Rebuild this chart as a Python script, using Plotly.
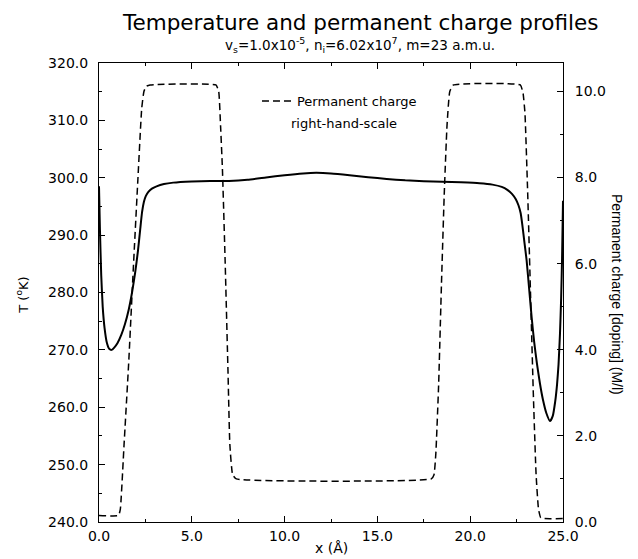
import plotly.graph_objects as go

# Temperature profile (left axis, K)
x_temp = [0.0, 0.05, 0.12, 0.2, 0.3, 0.42, 0.55, 0.68, 0.82, 1.0, 1.2, 1.4, 1.6, 1.78, 1.95,
          2.1, 2.22, 2.32, 2.42, 2.52, 2.65, 2.85, 3.1, 3.5, 4.0, 5.0, 6.0, 7.0, 8.0, 9.0, 10.0,
          11.0, 11.7, 12.5, 13.5, 14.5, 15.5, 16.5, 17.5, 18.5, 19.5, 20.5, 21.2, 21.7, 22.0,
          22.25, 22.45, 22.6, 22.72, 22.82, 22.92, 23.04, 23.18, 23.31, 23.45, 23.6, 23.76,
          23.92, 24.1, 24.3, 24.45, 24.58, 24.68, 24.76, 24.84, 24.9, 24.95, 25.0]
temp = [298.5, 291.0, 283.0, 277.5, 273.8, 271.3, 270.2, 270.0, 270.4, 271.2, 272.6, 274.5,
        277.0, 280.0, 283.5, 287.3, 291.0, 294.0, 295.8, 296.8, 297.5, 298.1, 298.5, 298.9,
        299.15, 299.35, 299.45, 299.45, 299.65, 300.05, 300.45, 300.75, 300.85, 300.75,
        300.45, 300.1, 299.8, 299.55, 299.4, 299.3, 299.2, 299.05, 298.8, 298.4, 297.9,
        297.2, 296.3, 295.2, 293.8, 291.5, 288.8, 285.6, 280.5, 275.7, 271.3, 267.5, 264.1,
        261.3, 259.0, 257.6, 258.5, 261.0, 264.0, 267.5, 273.0, 279.0, 286.0, 296.0]

# Permanent charge profile (right axis, M/l)
x_charge = [0.0, 1.05, 1.15, 1.35, 1.6, 1.85, 2.1, 2.3, 2.42, 2.55, 2.75, 6.3, 6.45, 6.55,
            6.65, 6.8, 6.95, 7.05, 7.2, 7.4, 17.9, 18.05, 18.15, 18.3, 18.45, 18.6, 18.75,
            18.9, 19.1, 22.7, 22.85, 22.95, 23.1, 23.25, 23.4, 23.55, 23.68, 23.8, 24.0, 25.0]
charge = [0.15, 0.15, 0.3, 1.8, 3.7, 5.9, 8.0, 9.6, 10.0, 10.12, 10.15, 10.15, 10.0, 9.2,
          8.2, 6.0, 3.5, 1.8, 1.1, 1.0, 1.0, 1.1, 1.6, 3.2, 5.5, 7.6, 9.2, 10.0, 10.15, 10.15,
          9.95, 9.5, 7.6, 5.3, 3.0, 1.1, 0.3, 0.1, 0.08, 0.08]

x_ticks = [0, 5, 10, 15, 20, 25]
t_ticks = [240, 250, 260, 270, 280, 290, 300, 310, 320]
q_ticks = [0, 2, 4, 6, 8, 10]

FONT = "DejaVu Sans, Liberation Sans, Arial, sans-serif"

fig = go.Figure()
fig.add_trace(go.Scatter(x=x_temp, y=temp, mode="lines", name="Temperature",
                         line=dict(color="black", width=2, shape="spline", smoothing=0.5),
                         showlegend=False))
fig.add_trace(go.Scatter(x=x_charge, y=charge, mode="lines", name="Permanent charge",
                         yaxis="y2",
                         line=dict(color="black", width=1.5, dash="7px,4px",
                                   shape="spline", smoothing=0.4),
                         showlegend=True))

axis_common = dict(showline=True, linecolor="black", linewidth=1, ticks="inside",
                   tickcolor="black", showgrid=False, zeroline=False,
                   tickfont=dict(family=FONT, size=14, color="black"))

fig.update_layout(
    width=638, height=559,
    margin=dict(l=99, r=75, t=63, b=37),
    paper_bgcolor="white", plot_bgcolor="white",
    font=dict(family=FONT, color="black"),
    xaxis=dict(range=[0, 25], tickvals=x_ticks, tickformat=".1f", ticklen=6,
               mirror="ticks", ticklabelstandoff=1,
               minor=dict(dtick=2.5, ticklen=3, ticks="inside", tickcolor="black"),
               **axis_common),
    yaxis=dict(range=[240, 320], tickvals=t_ticks, tickformat=".1f", ticklen=6,
               ticklabelstandoff=7,
               minor=dict(dtick=5, ticklen=3, ticks="inside", tickcolor="black"),
               **axis_common),
    yaxis2=dict(range=[0, 10.66], tickvals=q_ticks, tickformat=".1f", ticklen=6,
                overlaying="y", side="right", ticklabelstandoff=8,
                minor=dict(dtick=1, ticklen=3, ticks="inside", tickcolor="black"),
                **axis_common),
    legend=dict(x=0.3405, y=0.95, xanchor="left", yanchor="top",
                bgcolor="rgba(0,0,0,0)", borderwidth=0,
                font=dict(family=FONT, size=13, color="black")),
    annotations=[
        dict(text="Temperature and permanent charge profiles", xref="paper", yref="paper",
             x=0.5625, y=1.089, showarrow=False, xanchor="center", yanchor="middle",
             font=dict(family=FONT, size=21.5)),
        dict(text="v<sub>s</sub>=1.0x10<sup>-5</sup>, n<sub>i</sub>=6.02x10<sup>7</sup>, m=23 a.m.u.",
             xref="paper", yref="paper", x=0.5625, y=1.039, showarrow=False,
             xanchor="center", yanchor="middle", font=dict(family=FONT, size=13.5)),
        dict(text="right-hand-scale", xref="paper", yref="paper", x=0.4095, y=0.868,
             showarrow=False, xanchor="left", yanchor="middle",
             font=dict(family=FONT, size=13)),
        dict(text="x (Å)", xref="paper", yref="paper", x=0.5, y=-0.0566,
             showarrow=False, xanchor="center", yanchor="middle",
             font=dict(family=FONT, size=14)),
        dict(text="T (<sup>o</sup>K)", xref="paper", yref="paper", x=-0.166, y=0.495,
             showarrow=False, textangle=-90, xanchor="center", yanchor="middle",
             font=dict(family=FONT, size=13)),
        dict(text="Permanent charge [doping] (M/l)", xref="paper", yref="paper",
             x=1.116, y=0.495, showarrow=False, textangle=90, xanchor="center",
             yanchor="middle", font=dict(family="Liberation Sans Narrow, Liberation Sans, Arial", size=14)),
    ],
)

fig.write_html("out.html", config={"displayModeBar": False},
               post_script="document.body.style.margin='0px';")
